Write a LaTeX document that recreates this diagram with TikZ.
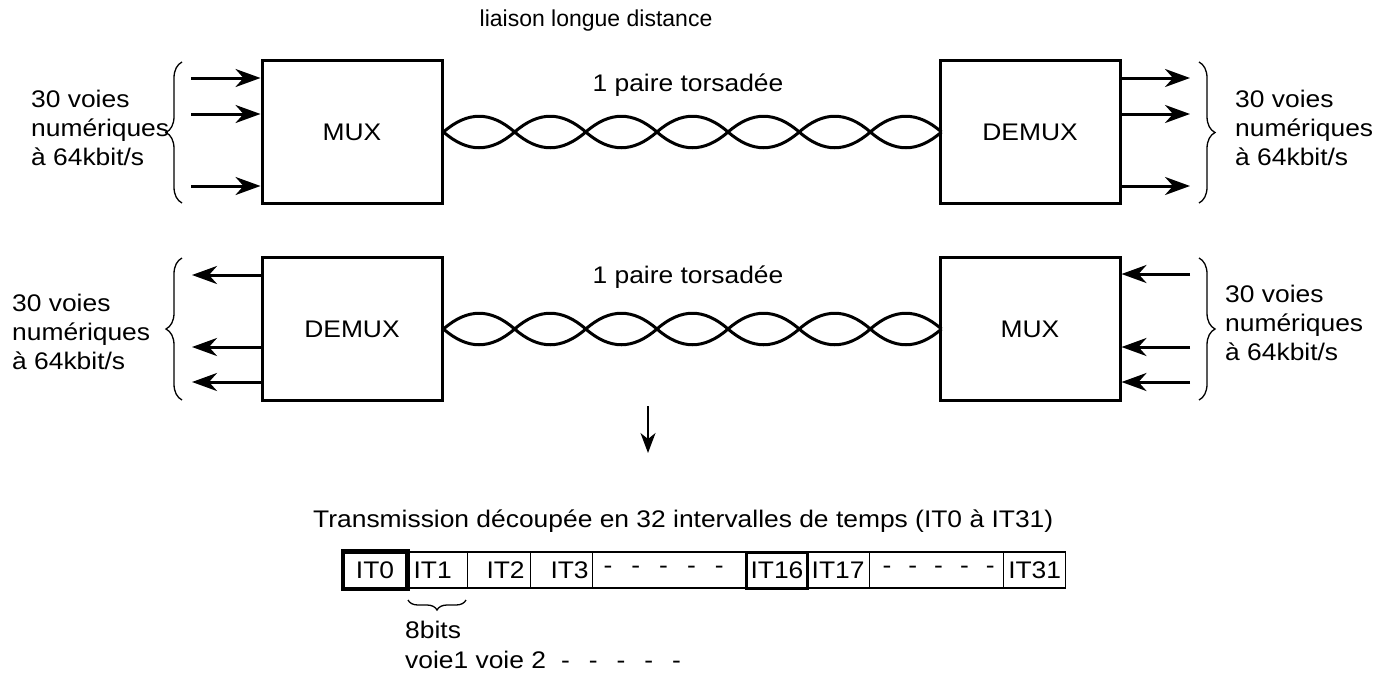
\documentclass[tikz,border=0pt]{standalone}
\usepackage{fontspec}
\setmainfont{Liberation Sans}[FakeStretch=1.1]
\newfontfamily\plainsans{Liberation Sans}
\usetikzlibrary{arrows.meta,decorations.pathreplacing}
\newcommand\dashseq[1]{-\hspace{#1}-\hspace{#1}-\hspace{#1}-\hspace{#1}-}
\begin{document}
\begin{tikzpicture}[x=1pt,y=-1pt,
  every node/.style={font=\fontsize{24}{29}\selectfont, inner sep=0pt},
  blockbox/.style={draw, line width=3pt, minimum width=180pt, minimum height=143pt},
  arr/.style={line width=3pt, -{Stealth[length=25pt,width=18pt,inset=8pt]}},
  downarr/.style={line width=1.5pt, -{Stealth[length=20pt,width=15pt,inset=6pt]}},
  pairline/.style={line width=3pt},
  bracel/.style={line width=1.3pt, decorate, decoration={brace, amplitude=16pt}},
  smallbrace/.style={line width=1.3pt, decorate, decoration={brace, amplitude=10pt}},
  cell/.style={draw, line width=1.3pt, minimum height=36pt, anchor=west},
  thickcell/.style={cell, line width=3pt},
  lbl/.style={align=left, anchor=west},
]
\useasboundingbox (0,0) rectangle (1391,675);

% titles
\node[font=\plainsans\fontsize{23}{28}\selectfont] (title) at (596,21) {liaison longue distance};
\node (tp1) at (688,85) {1 paire torsadée};
\node (tp2) at (688,277) {1 paire torsadée};

% blocks
\node[blockbox] (m1) at (352,132) {MUX};
\node[blockbox] (d1) at (1030,132) {DEMUX};
\node[blockbox] (d2) at (352,329) {DEMUX};
\node[blockbox] (m2) at (1030,329) {MUX};

% twisted pairs
\draw[pairline] (m1.east) foreach \i in {1,...,7} { .. controls +(24,-21) and +(-24,-21) .. ++(71.14,0) };
\draw[pairline] (m1.east) foreach \i in {1,...,7} { .. controls +(24,21) and +(-24,21) .. ++(71.14,0) };
\draw[pairline] (d2.east) foreach \i in {1,...,7} { .. controls +(24,-21) and +(-24,-21) .. ++(71.14,0) };
\draw[pairline] (d2.east) foreach \i in {1,...,7} { .. controls +(24,21) and +(-24,21) .. ++(71.14,0) };

% input / output channels
\coordinate (a1) at (191,78);  \coordinate (a2) at (191,114); \coordinate (a3) at (191,186);
\coordinate (b1) at (1190,78); \coordinate (b2) at (1190,114); \coordinate (b3) at (1190,186);
\coordinate (c1) at (192,275); \coordinate (c2) at (192,347); \coordinate (c3) at (192,382);
\coordinate (e1) at (1190,274); \coordinate (e2) at (1190,347); \coordinate (e3) at (1190,382);
\foreach \p in {a1,a2,a3} { \draw[arr] (\p) -- (\p -| m1.west); }
\foreach \p in {b1,b2,b3} { \draw[arr] (\p -| d1.east) -- (\p); }
\foreach \p in {c1,c2,c3} { \draw[arr] (\p -| d2.west) -- (\p); }
\foreach \p in {e1,e2,e3} { \draw[arr] (\p) -- (\p -| m2.east); }

% braces
\draw[bracel] (182,203) -- (182,62);
\draw[bracel] (1199,62) -- (1199,203);
\draw[bracel] (182,400) -- (182,258);
\draw[bracel] (1199,258) -- (1199,400);

% channel labels
\node[lbl] (l1) at (31,128) {30 voies\\numériques\\à 64kbit/s};
\node[lbl] (l2) at (1235,128) {30 voies\\numériques\\à 64kbit/s};
\node[lbl] (l3) at (12,332) {30 voies\\numériques\\à 64kbit/s};
\node[lbl] (l4) at (1225,323) {30 voies\\numériques\\à 64kbit/s};

% down arrow
\coordinate (dn1) at (648,406);
\coordinate (dn2) at (648,453);
\draw[downarr] (dn1) -- (dn2);

% frame
\node[anchor=base west] (tx) at (313,527) {Transmission découpée en 32 intervalles de temps (IT0 à IT31)};

\node[thickcell, minimum width=63pt] (c0) at (342,570) {\makebox[63pt]{IT0}};
\node[cell, minimum width=62pt] (c1) at (405,570) {\makebox[62pt][l]{\hspace{8pt}IT1}};
\node[cell, minimum width=63pt] (c2) at (467,570) {\makebox[63pt][r]{IT2\hspace{6pt}}};
\node[cell, minimum width=62pt] (c3) at (530,570) {\makebox[62pt][r]{IT3\hspace{4pt}}};
\node[cell, minimum width=153pt] (cd1) at (592,570) {\makebox[153pt][l]{\hspace{11pt}\dashseq{19pt}}};
\node[cell, minimum width=63pt] (c17) at (806,570) {\makebox[63pt]{IT17}};
\node[thickcell, minimum width=61pt] (c16) at (745,570) {\makebox[61pt]{IT16}};
\node[cell, minimum width=134pt] (cd2) at (869,570) {\makebox[134pt][l]{\hspace{13pt}\dashseq{17pt}}};
\node[cell, minimum width=62pt] (c31) at (1003,570) {\makebox[62pt]{IT31}};
\draw[thickcell] (c0.north west) rectangle (c0.south east);

\draw[smallbrace] (466,600) -- (408,600);
\node[anchor=base west] (bits) at (405,638) {8bits};
\node[anchor=base west] (voies) at (405,668) {voie1 voie 2\hspace{15pt}\dashseq{19pt}};
\end{tikzpicture}
\end{document}
